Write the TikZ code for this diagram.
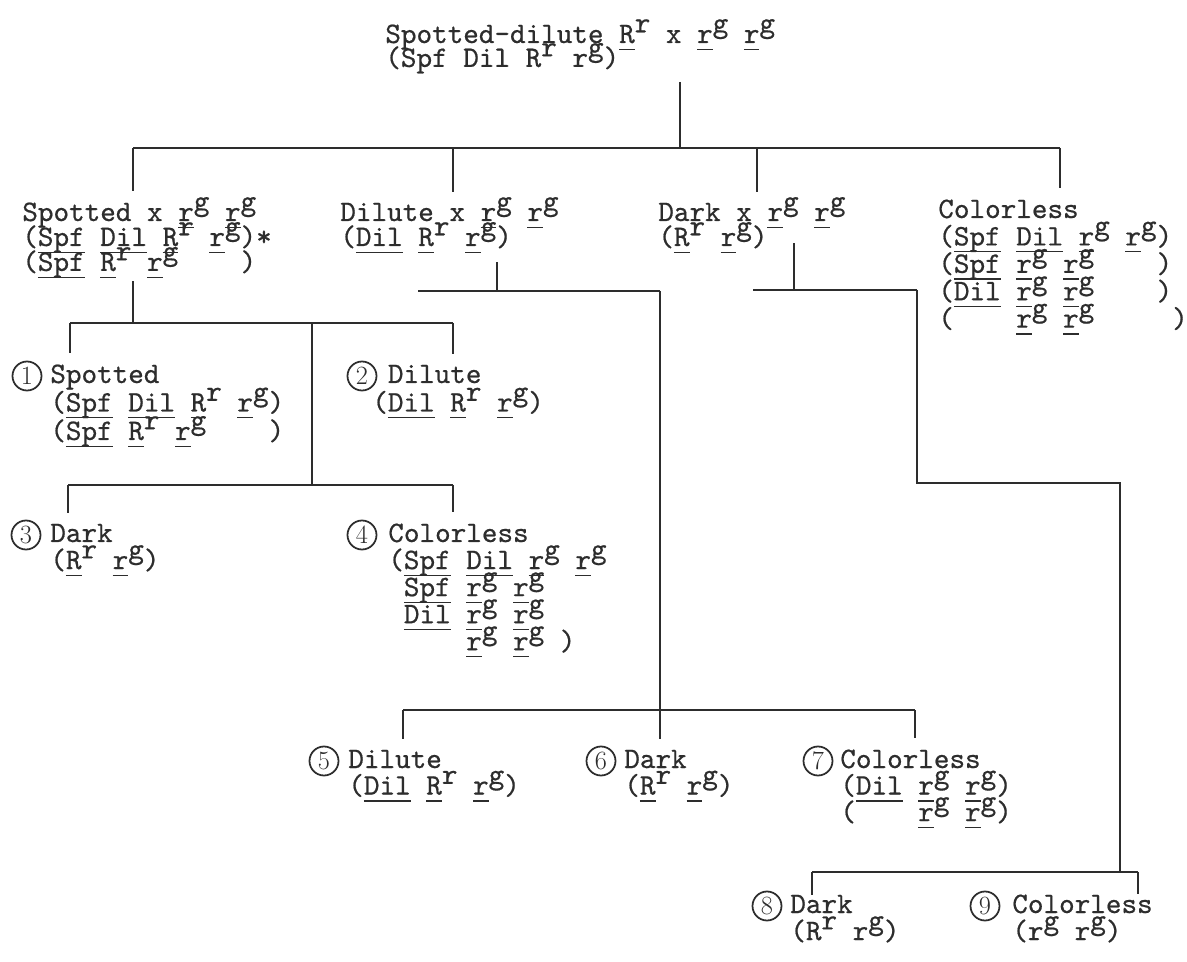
\documentclass[tikz,border=0pt]{standalone}
\usepackage{fontspec}
\setmonofont{lmmono10-regular.otf}[FakeBold=0.6]
\usepackage{tikz}
\usetikzlibrary{calc}

\definecolor{inkgray}{RGB}{45,45,45}

% raised typewriter superscript, underlined gene symbol, stacked lines
\newcommand\up[1]{\raisebox{0.36em}[0pt][0pt]{#1}}
\newcommand\ud[1]{\leavevmode\setbox0\hbox{#1}\rlap{\rule[-4pt]{\wd0}{0.8pt}}\box0\relax}
\newcommand\blk[1]{\vtop{\lineskiplimit=-\maxdimen\lineskip=0pt\let\\\cr\halign{##\hfil\cr#1\crcr}}}

\begin{document}
\begin{tikzpicture}[
    x=0.02cm, y=-0.02cm,
    txt/.style={inner sep=0pt, anchor=base west, text=inkgray,
      font=\ttfamily\fontsize{16.9}{#1}\selectfont},
    txt/.default=15.4pt,
    numc/.style={circle, draw=inkgray, line width=1pt, inner sep=0pt,
      minimum size=0.58cm, text=inkgray, font=\fontsize{15}{15}\selectfont},
    tree/.style={draw=inkgray, line width=1.1pt},
    drop/.style={tree, shorten >=0.22cm}
  ]
  \useasboundingbox (0,0) rectangle (1187,962);

  %% ===== parent cross =====
  \node[txt=13.6pt] (top) at (385,43)
    {\blk{Spotted-dilute \ud{R}\up{r} x \ud{r}\up{g} \ud{r}\up{g}\\
          (Spf Dil R\up{r} r\up{g})}};

  %% ===== first generation =====
  \node[txt=14.2pt] (spx) at (22,221)
    {\blk{Spotted x \ud{r}\up{g} \ud{r}\up{g}\\
          (\ud{Spf} \ud{Dil} \ud{R}\up{r} \ud{r}\up{g})*\\
          (\ud{Spf} \ud{R}\up{r} \ud{r}\up{g}~~~~)}};
  \node[txt=14.2pt] (dix) at (340,221)
    {\blk{Dilute x \ud{r}\up{g} \ud{r}\up{g}\\
          (\ud{Dil} \ud{R}\up{r} \ud{r}\up{g})}};
  \node[txt=14.2pt] (dkx) at (658,221)
    {\blk{Dark x \ud{r}\up{g} \ud{r}\up{g}\\
          (\ud{R}\up{r} \ud{r}\up{g})}};
  \node[txt=15.6pt] (col) at (938,218)
    {\blk{Colorless\\
          (\ud{Spf} \ud{Dil} \ud{r}\up{g} \ud{r}\up{g})\\
          (\ud{Spf} \ud{r}\up{g} \ud{r}\up{g}~~~~)\\
          (\ud{Dil} \ud{r}\up{g} \ud{r}\up{g}~~~~)\\
          (~~~~\ud{r}\up{g} \ud{r}\up{g}~~~~~)}};

  \coordinate (b1t) at (680,148);
  \coordinate (b1a) at (133,148);
  \coordinate (b1b) at (453,148);
  \coordinate (b1c) at (757,148);
  \coordinate (b1d) at (1060,148);

  \draw[tree, shorten <=0.16cm] (b1t |- top.south) -- (b1t);
  \draw[tree] (b1a) -- (b1d);
  \foreach \b/\n in {b1a/spx, b1b/dix, b1c/dkx, b1d/col}
    \draw[drop] (\b) -- (\b |- \n.north);

  %% ===== Spotted x offspring =====
  \node[txt=16.2pt] (s1) at (50,383)
    {\blk{Spotted\\
          (\ud{Spf} \ud{Dil} \ud{R}\up{r} \ud{r}\up{g})\\
          (\ud{Spf} \ud{R}\up{r} \ud{r}\up{g}~~~~)}};
  \node[numc] (c1) at (27,376) {1};
  \node[txt=16.2pt] (s2) at (372,383)
    {\blk{~Dilute\\
          (\ud{Dil} \ud{R}\up{r} \ud{r}\up{g})}};
  \node[numc] (c2) at (362,376) {2};

  \node[txt] (s3) at (50,542)
    {\blk{Dark\\
          (\ud{R}\up{r} \ud{r}\up{g})}};
  \node[numc] (c3) at (26,535) {3};
  \node[txt] (s4) at (388,542)
    {\blk{Colorless\\
          (\ud{Spf} \ud{Dil} \ud{r}\up{g} \ud{r}\up{g}\\
          ~\ud{Spf} \ud{r}\up{g} \ud{r}\up{g}\\
          ~\ud{Dil} \ud{r}\up{g} \ud{r}\up{g}\\
          ~~~~~\ud{r}\up{g} \ud{r}\up{g} )}};
  \node[numc] (c4) at (362,535) {4};

  \coordinate (b2a) at (70,323);
  \coordinate (b2s) at (133,323);
  \coordinate (b2m) at (312,323);
  \coordinate (b2b) at (453,323);
  \coordinate (b3a) at (68,485);
  \coordinate (b3m) at (312,485);
  \coordinate (b3b) at (453,485);

  \draw[tree, shorten <=0.06cm] (b2s |- spx.south) -- (b2s);
  \draw[tree] (b2a) -- (b2b);
  \draw[drop] (b2a) -- (b2a |- s1.north);
  \draw[drop] (b2b) -- (b2b |- s2.north);
  \draw[tree] (b2m) -- (b3m);
  \draw[tree] (b3a) -- (b3b);
  \draw[drop] (b3a) -- (b3a |- s3.north);
  \draw[drop] (b3b) -- (b3b |- s4.north);

  %% ===== Dilute x offspring =====
  \node[txt=15.1pt] (d5) at (348,768)
    {\blk{Dilute\\
          (\ud{Dil} \ud{R}\up{r} \ud{r}\up{g})}};
  \node[numc] (c5) at (324,761) {5};
  \node[txt=15.1pt] (d6) at (624,768)
    {\blk{Dark\\
          (\ud{R}\up{r} \ud{r}\up{g})}};
  \node[numc] (c6) at (601,761) {6};
  \node[txt=15.1pt] (d7) at (840,768)
    {\blk{Colorless\\
          (\ud{Dil} \ud{r}\up{g} \ud{r}\up{g})\\
          (~~~~\ud{r}\up{g} \ud{r}\up{g})}};
  \node[numc] (c7) at (818,761) {7};

  \coordinate (bdw) at (418,291);
  \coordinate (bdm) at (497,291);
  \coordinate (bde) at (660,291);
  \coordinate (b4a) at (403,710);
  \coordinate (b4b) at (915,710);

  \draw[tree, shorten <=0.18cm] (bdm |- dix.south) -- (bdm);
  \draw[tree] (bdw) -- (bde);
  \draw[drop] (bde) -- (bde |- d6.north);
  \draw[tree] (b4a) -- (b4b);
  \draw[drop] (b4a) -- (b4a |- d5.north);
  \draw[drop] (b4b) -- (b4b |- d7.north);

  %% ===== Dark x offspring =====
  \node[txt] (e8) at (790,913)
    {\blk{Dark\\
          (R\up{r} r\up{g})}};
  \node[numc] (c8) at (767,906) {8};
  \node[txt] (e9) at (1012,913)
    {\blk{Colorless\\
          (r\up{g} r\up{g})}};
  \node[numc] (c9) at (985,906) {9};

  \coordinate (bkw) at (753,290);
  \coordinate (bkm) at (794,290);
  \coordinate (bke) at (917,290);
  \coordinate (bkr) at (1120,483);
  \coordinate (b5a) at (812,872);
  \coordinate (b5m) at (1120,872);
  \coordinate (b5b) at (1138,872);

  \draw[tree, shorten <=-0.2cm] (bkm |- dkx.south) -- (bkm);
  \draw[tree] (bkw) -- (bke);
  \draw[tree] (bke) |- (bkr) -- (b5m);
  \draw[tree] (b5a) -- (b5b);
  \draw[tree] (b5a) -- (b5a |- e8.north);
  \draw[tree] (b5b) -- (b5b |- e9.north);
\end{tikzpicture}
\end{document}
